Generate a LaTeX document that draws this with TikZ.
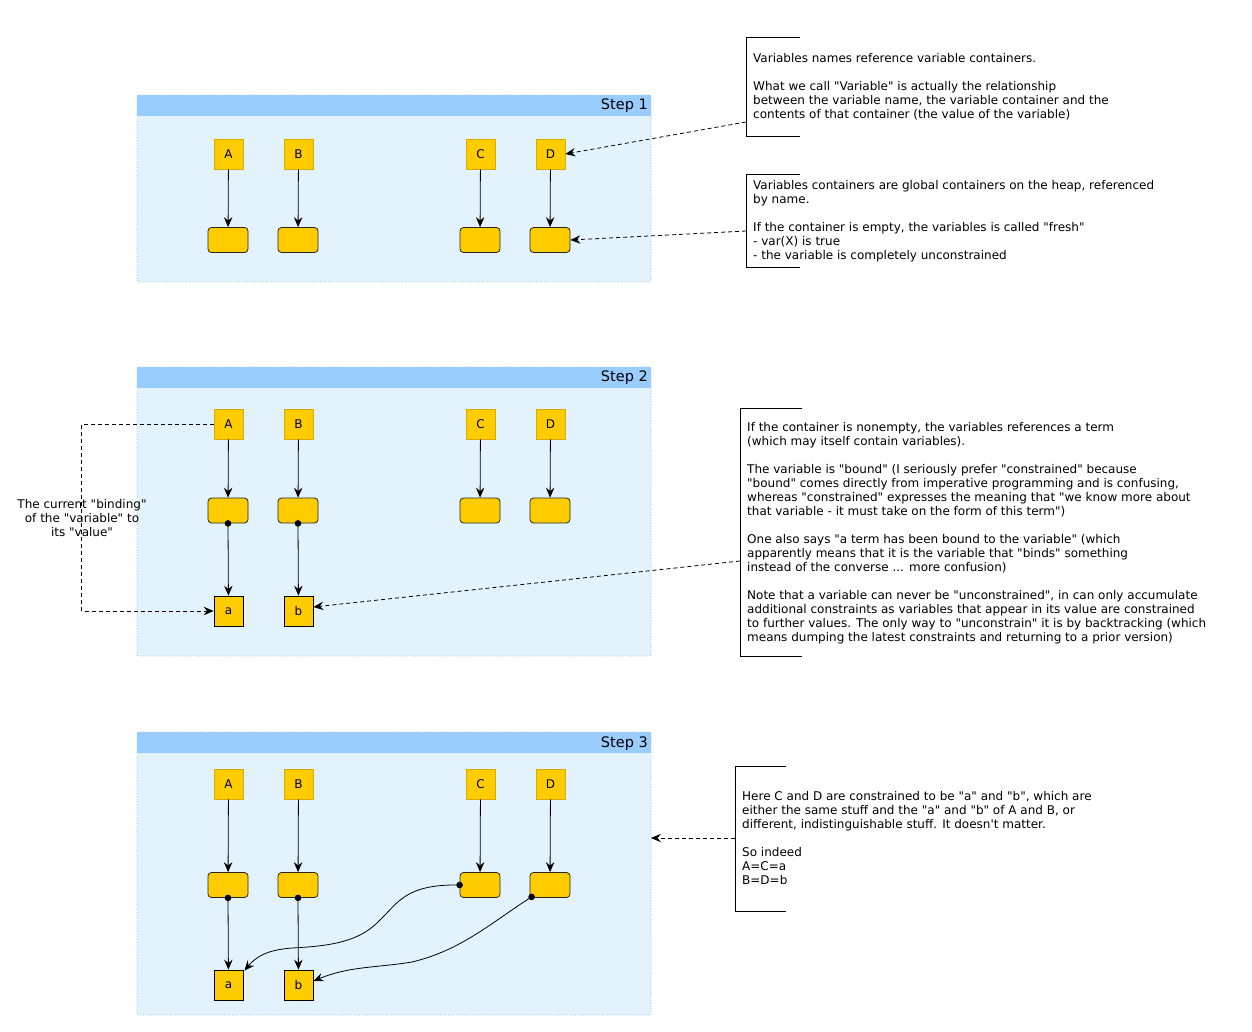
\documentclass[tikz,border=0pt]{standalone}
\usepackage{fontspec}
\setmainfont{DejaVu Sans}[Ligatures=TeXOff]
\usetikzlibrary{arrows.meta}
\definecolor{gold}{HTML}{FFCC00}
\definecolor{goldline}{HTML}{D9AA00}
\definecolor{hdr}{HTML}{99CCFF}
\definecolor{pbody}{HTML}{E3F3FD}
\definecolor{pborder}{HTML}{93AFC8}
\begin{document}
\begin{tikzpicture}[x=1pt,y=-1pt,
  panel/.style={fill=pbody, draw=pborder, dotted, line width=0.7pt, rounded corners=2pt, anchor=north west, minimum width=514pt, inner sep=0pt, outer sep=0pt},
  hdrband/.style={fill=hdr, anchor=north west, minimum width=514pt, minimum height=21pt, inner sep=0pt, outer sep=0pt},
  steplbl/.style={font=\fontsize{14.5}{16}\selectfont, anchor=east, inner sep=0pt},
  namebox/.style={fill=gold, draw=goldline, line width=0.8pt, minimum width=29pt, minimum height=30pt, inner sep=0pt, font=\fontsize{12}{14}\selectfont},
  cont/.style={fill=gold, draw=black!85, line width=0.8pt, rounded corners=3.5pt, minimum width=40pt, minimum height=25pt, inner sep=0pt},
  valbox/.style={fill=gold, draw=black, line width=0.8pt, minimum width=29pt, minimum height=30pt, inner sep=0pt, font=\fontsize{12}{14}\selectfont},
  arr/.style={line width=0.8pt, -{Stealth[length=10pt,width=8.5pt,inset=3.5pt]}},
  darr/.style={line width=0.8pt, dash pattern=on 4pt off 3pt, -{Stealth[length=10pt,width=8.5pt,inset=3.5pt]}},
  bracket/.style={line width=0.8pt, draw=black},
  note/.style={anchor=north west, align=left, inner sep=0pt, font=\fontsize{12}{14}\selectfont},
  dot/.style={fill=black}
]
\useasboundingbox (0,0) rectangle (1252,1031);
\fill[white] (0,0) rectangle (1252,1031);

% ---------- panels ----------
\node[panel, minimum height=187pt] (p1) at (137,95) {};
\node[hdrband] (h1) at (137.3,95.3) {};
\node[steplbl] (s1) at (648,106) {Step 1};
\node[panel, minimum height=289pt] (p2) at (137,367) {};
\node[hdrband] (h2) at (137.3,367.3) {};
\node[steplbl] (s2) at (648,378) {Step 2};
\node[panel, minimum height=283pt] (p3) at (137,732) {};
\node[hdrband] (h3) at (137.3,732.3) {};
\node[steplbl] (s3) at (648,744) {Step 3};

% ---------- step 1 ----------
\node[namebox] (nA1) at (228.5,154) {A};
\node[namebox] (nB1) at (298.5,154) {B};
\node[namebox] (nC1) at (480.5,154) {C};
\node[namebox] (nD1) at (550.5,154) {D};
\node[cont] (cA1) at (228,240) {};
\node[cont] (cB1) at (298,240) {};
\node[cont] (cC1) at (480,240) {};
\node[cont] (cD1) at (550,240) {};
\foreach \n in {A,B,C,D} \draw[arr] (n\n1) -- (c\n1);

% ---------- step 2 ----------
\node[namebox] (nA2) at (228.5,424) {A};
\node[namebox] (nB2) at (298.5,424) {B};
\node[namebox] (nC2) at (480.5,424) {C};
\node[namebox] (nD2) at (550.5,424) {D};
\node[cont] (cA2) at (228,510.5) {};
\node[cont] (cB2) at (298,510.5) {};
\node[cont] (cC2) at (480,510.5) {};
\node[cont] (cD2) at (550,510.5) {};
\foreach \n in {A,B,C,D} \draw[arr] (n\n2) -- (c\n2);
\node[valbox] (va2) at (228.5,611) {a};
\node[valbox] (vb2) at (298.5,611) {b};
\fill[dot] (cA2.south) circle (3.3);
\fill[dot] (cB2.south) circle (3.3);
\draw[arr] (cA2.south) -- (va2);
\draw[arr] (cB2.south) -- (vb2);
\draw[darr] (nA2.west) -- ++(-132,0) |- (va2.west);
\node[align=center, inner sep=0pt, font=\fontsize{12}{14}\selectfont] (lbl) at (82,518)
  {The current "binding"\\ of the "variable" to\\ its "value"};

% ---------- step 3 ----------
\node[namebox] (nA3) at (228.5,784) {A};
\node[namebox] (nB3) at (298.5,784) {B};
\node[namebox] (nC3) at (480.5,784) {C};
\node[namebox] (nD3) at (550.5,784) {D};
\node[cont] (cA3) at (228,885) {};
\node[cont] (cB3) at (298,885) {};
\node[cont] (cC3) at (480,885) {};
\node[cont] (cD3) at (550,885) {};
\foreach \n in {A,B,C,D} \draw[arr] (n\n3) -- (c\n3);
\node[valbox] (va3) at (228.5,985) {a};
\node[valbox] (vb3) at (298.5,985) {b};
\fill[dot] (cA3.south) circle (3.3);
\fill[dot] (cB3.south) circle (3.3);
\fill[dot] (cC3.west) circle (3.3);
\coordinate (dD) at ([xshift=2pt,yshift=1pt]cD3.south west);
\fill[dot] (dD) circle (3.3);
\draw[arr] (cA3.south) -- (va3);
\draw[arr] (cB3.south) -- (vb3);
\draw[arr] (cC3.west) .. controls (405,884) and (398,903) .. (378,922)
   .. controls (358,942) and (330,946) .. (292,948)
   .. controls (266,950) and (256,957) .. ([xshift=1pt,yshift=-1pt]va3.north east);
\draw[arr] (dD) .. controls (492,922) and (462,950) .. (412,962)
   .. controls (375,968) and (350,966) .. ([yshift=4pt]vb3.east);

% ---------- notes ----------
\draw[bracket] (800,37) -- (746,37) -- (746,136) -- (800,136);
\node[note] (t1) at (753,53.3) {Variables names reference variable containers.\\[14pt]
What we call "Variable" is actually the relationship\\
between the variable name, the variable container and the\\
contents of that container (the value of the variable)};
\coordinate (k1) at (746,122);
\draw[darr] (k1) -- (nD1.east);

\draw[bracket] (800,174) -- (746,174) -- (746,267) -- (800,267);
\node[note] (t2) at (753,180.3) {Variables containers are global containers on the heap, referenced\\
by name.\\[14pt]
If the container is empty, the variables is called "fresh"\\
- var(X) is true\\
- the variable is completely unconstrained};
\coordinate (k2) at (746,231);
\draw[darr] (k2) -- (cD1.east);

\draw[bracket] (802,408) -- (740,408) -- (740,656) -- (802,656);
\node[note] (t3) at (747,422.3) {If the container is nonempty, the variables references a term\\
(which may itself contain variables).\\[14pt]
The variable is "bound" (I seriously prefer "constrained" because\\
"bound" comes directly from imperative programming and is confusing,\\
whereas "constrained" expresses the meaning that "we know more about\\
that variable - it must take on the form of this term")\\[14pt]
One also says "a term has been bound to the variable" (which\\
apparently means that it is the variable that "binds" something\\
instead of the converse ... more confusion)\\[14pt]
Note that a variable can never be "unconstrained", in can only accumulate\\
additional constraints as variables that appear in its value are constrained\\
to further values. The only way to "unconstrain" it is by backtracking (which\\
means dumping the latest constraints and returning to a prior version)};
\coordinate (k3) at (740,561);
\draw[darr] (k3) -- ([yshift=4pt]vb2.east);

\draw[bracket] (786,766) -- (735,766) -- (735,911) -- (786,911);
\node[note] (t4) at (742,791.3) {Here C and D are constrained to be "a" and "b", which are\\
either the same stuff and the "a" and "b" of A and B, or\\
different, indistinguishable stuff. It doesn't matter.\\[14pt]
So indeed\\
A=C=a\\
B=D=b};
\coordinate (k4) at (735,838);
\draw[darr] (k4) -- (k4 -| p3.east);
\end{tikzpicture}
\end{document}
